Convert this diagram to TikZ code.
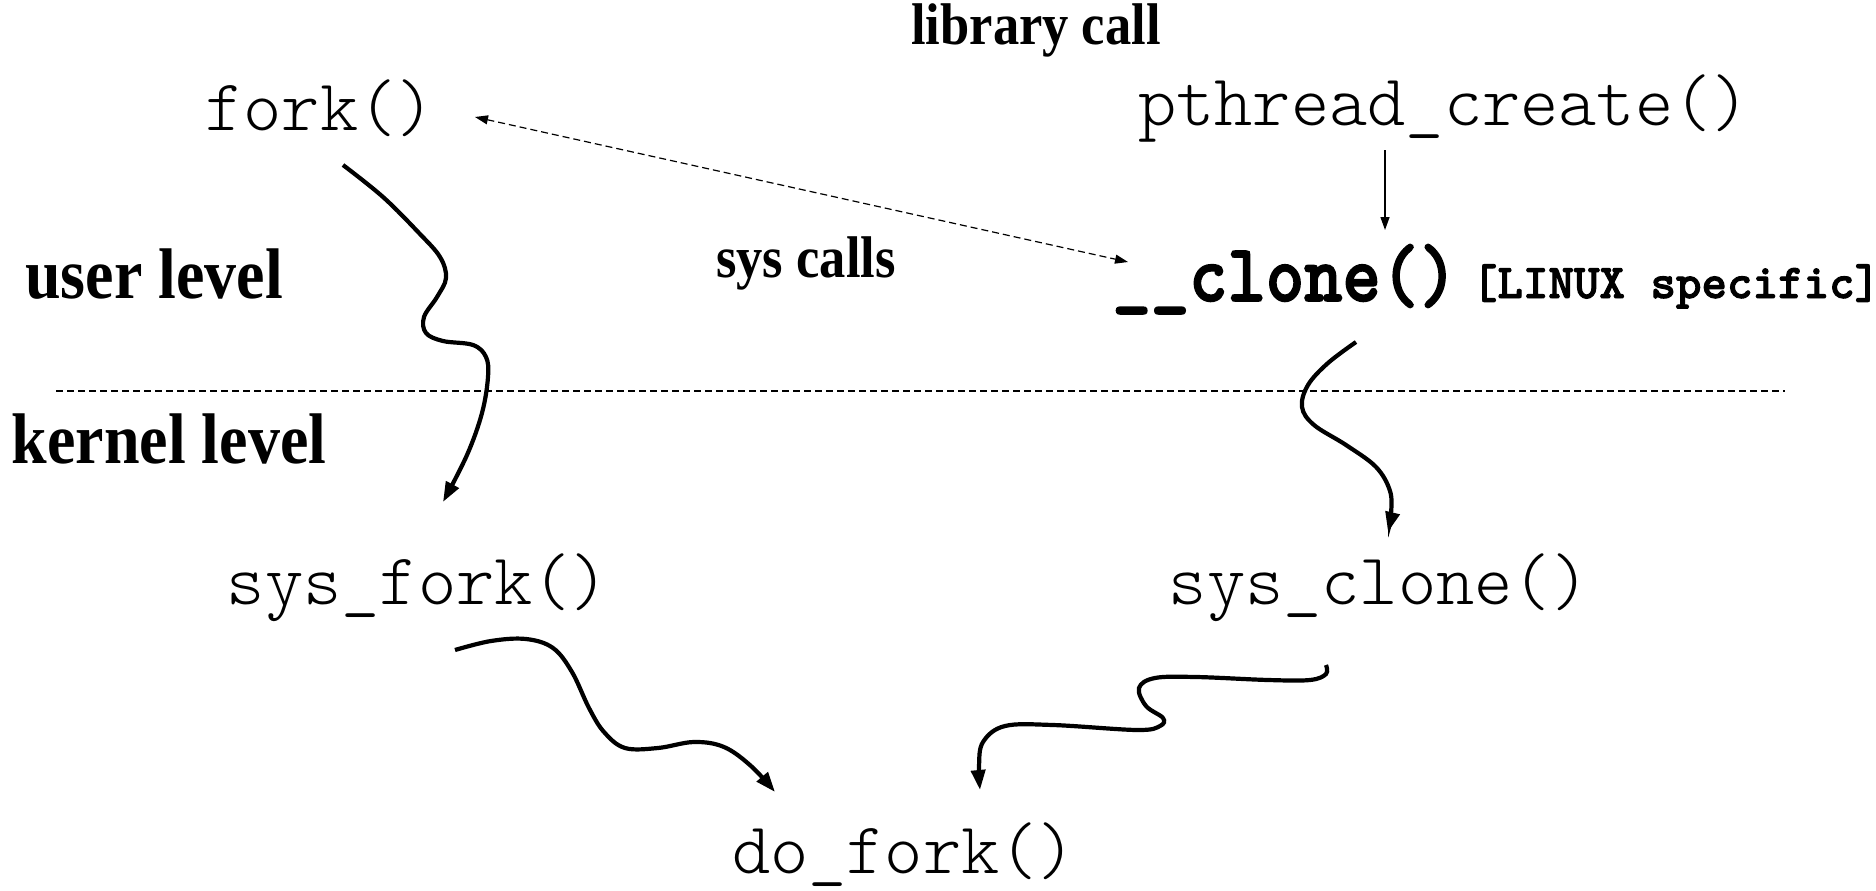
\documentclass[tikz,border=0pt]{standalone}
\usepackage{fontspec}
\setmainfont{Liberation Serif}
\newfontfamily\cour{Latin Modern Mono Light}[BoldFeatures={FakeBold=2}]
\usetikzlibrary{arrows.meta}
\tikzset{
  mono/.style={font=\cour\fontsize{72.8}{78}\selectfont, anchor=base, inner sep=0pt},
  monob/.style={font=\cour\bfseries\fontsize{73}{78}\selectfont, anchor=base, inner sep=0pt, yscale=1.12},
  monos/.style={font=\cour\bfseries\fontsize{48.6}{54}\selectfont, anchor=base, inner sep=0pt},
  lbl/.style={font=\bfseries\fontsize{64}{70}\selectfont, anchor=base, inner sep=0pt, yscale=1.12},
  lbls/.style={font=\bfseries\fontsize{52.5}{60}\selectfont, anchor=base, inner sep=0pt, yscale=1.12},
  wavy/.style={line width=4.2pt, line cap=butt, -{Triangle[length=20pt,width=14pt]}},
  thin/.style={line width=1.4pt, -{Triangle[length=13pt,width=9pt]}},
  dsh/.style={line width=1.2pt, dash pattern=on 7pt off 4pt}
}
\begin{document}
\begin{tikzpicture}[x=1pt,y=-1pt]
\useasboundingbox (0,0) rectangle (1876,891);
\node[lbls] (lib) at (1036,45) {library call};
\node[mono] (fork) at (320,130) {fork()};
\node[mono] (pth) at (1444,125) {pthread\_create()};
\node[lbl] (user) at (154,298) {user level};
\node[lbls] (sysc) at (806,277) {sys calls};
\node[monob] (clone) at (1285,301) {\_\_clone()};
\node[monos] (linux) at (1676,298) {[LINUX specific]};
\node[lbl] (kern) at (169,463) {kernel level};
\node[mono] (sfork) at (418,604) {sys\_fork()};
\node[mono] (sclone) at (1379,604) {sys\_clone()};
\node[mono] (dofork) at (904,873) {do\_fork()};

\coordinate (hl) at (56,391);
\coordinate (hr) at (1785,391);
\draw[dsh] (hl) -- (hr);

\coordinate (da) at (475,117);
\coordinate (db) at (1128,262);
\draw[dsh, {Triangle[length=13pt,width=9pt]}-{Triangle[length=13pt,width=9pt]}] (da) -- (db);

\coordinate (pa) at (1385,150);
\coordinate (pb) at (1385,230);
\draw[thin] (pa) -- (pb);

\coordinate (c1s) at (343,165);
\coordinate (c1e) at (443,502);
\draw[wavy] plot[smooth, tension=0.6] coordinates {(c1s) (383,197) (419,233) (440,257) (446,278) (437,297) (424,317) (426,333) (443,341) (473,345) (486,357) (488,377) (482,413) (467,455) (c1e)};

\coordinate (c2s) at (1356,342);
\coordinate (c2e) at (1388,532);
\draw[wavy] plot[smooth, tension=0.6] coordinates {(c2s) (1328,363) (1308,385) (1302,407) (1314,425) (1346,445) (1376,467) (1390,491) (1391,514) (c2e)};

\coordinate (c3s) at (455,650);
\coordinate (c3e) at (775,792);
\draw[wavy] plot[smooth, tension=0.6] coordinates {(c3s) (491,641) (526,639) (553,648) (572,672) (589,708) (604,732) (625,748) (658,748) (694,742) (724,747) (751,766) (c3e)};

\coordinate (c4s) at (1326,665);
\coordinate (c4e) at (980,790);
\draw[wavy] plot[smooth, tension=0.6] coordinates {(c4s) (1326,674) (1310,680) (1268,680) (1196,677) (1155,678) (1139,688) (1146,706) (1163,718) (1160,726) (1137,730) (1053,725) (1005,726) (983,742) (979,766) (c4e)};
\end{tikzpicture}
\end{document}
